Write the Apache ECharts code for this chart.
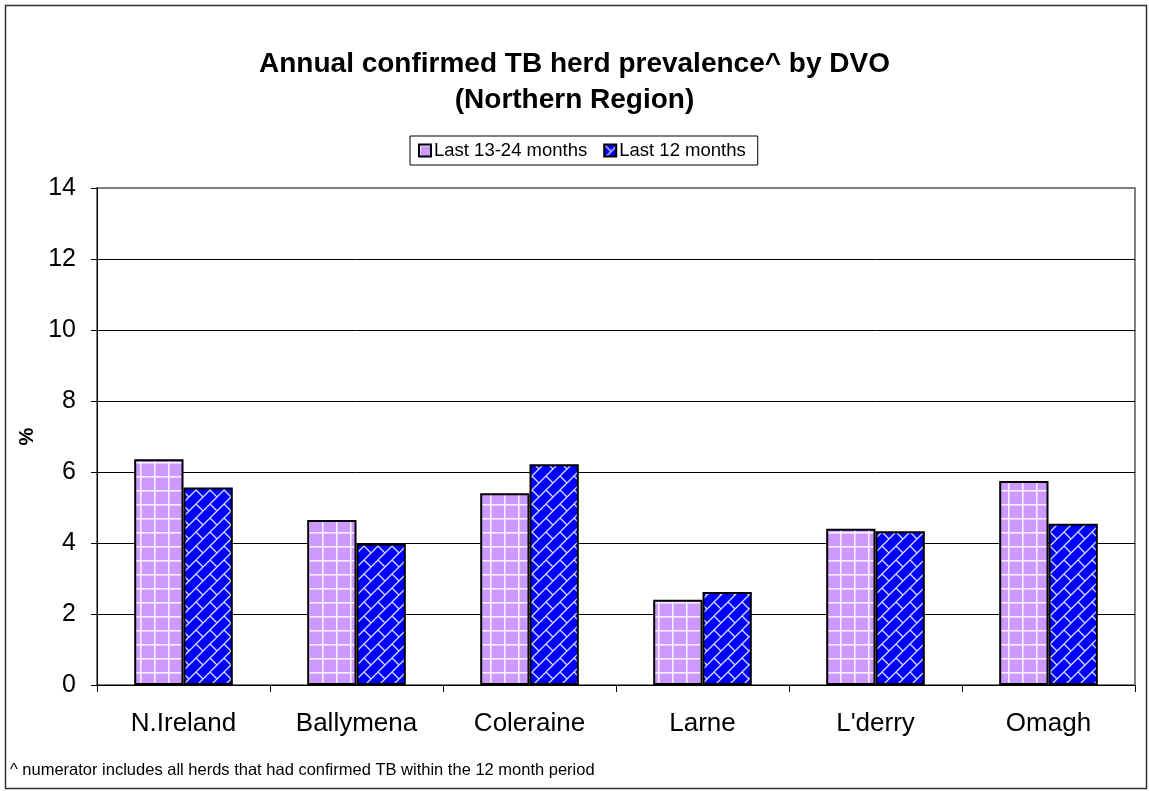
<!DOCTYPE html>
<html>
<head>
<meta charset="utf-8">
<script src="https://cdn.jsdelivr.net/npm/echarts@6/dist/echarts.min.js"></script>
<style>
html,body{margin:0;padding:0;background:#fff;}
#chart{width:1149px;height:791px;}
</style>
</head>
<body>
<div id="chart"></div>
<script>
const categories = ["N.Ireland", "Ballymena", "Coleraine", "Larne", "L'derry", "Omagh"];
const last13to24 = [6.36, 4.65, 5.4, 2.4, 4.4, 5.75];
const last12 = [5.56, 3.98, 6.22, 2.62, 4.33, 4.54];
const seriesNames = ["Last 13-24 months", "Last 12 months"];
const yTicks = [0, 2, 4, 6, 8, 10, 12, 14];

const FONT = "'Liberation Sans', Arial, sans-serif";

function gridPattern() {
  const c = document.createElement('canvas');
  c.width = 14; c.height = 14;
  const g = c.getContext('2d');
  g.fillStyle = '#CC99FF';
  g.fillRect(0, 0, 14, 14);
  g.fillStyle = '#F6F0FF';
  g.fillRect(0, 0, 14, 1.6);
  g.fillRect(0, 0, 1.6, 14);
  return c;
}
function brickPattern() {
  const c = document.createElement('canvas');
  c.width = 14; c.height = 14;
  const g = c.getContext('2d');
  g.fillStyle = '#0000FF';
  g.fillRect(0, 0, 14, 14);
  g.strokeStyle = '#DDDDFF';
  g.lineWidth = 1.3;
  g.beginPath();
  g.moveTo(-2, 16); g.lineTo(16, -2);
  g.moveTo(-2, 2); g.lineTo(2, -2);
  g.moveTo(12, 16); g.lineTo(16, 12);
  g.moveTo(0.5, 0.5); g.lineTo(6.5, 6.5);
  g.stroke();
  return c;
}

const chart = echarts.init(document.getElementById('chart'), null, {renderer: 'canvas'});
const option = {
  backgroundColor: '#fff',
  animation: false,
  title: {
    text: 'Annual confirmed TB herd prevalence^ by DVO\n(Northern Region)',
    left: 'center',
    top: 41,
    textStyle: {fontFamily: FONT, fontSize: 28, fontWeight: 'bold', color: '#000', lineHeight: 36}
  },
  legend: {
    data: seriesNames,
    left: 410,
    top: 136,
    padding: [5, 12, 5, 8],
    itemGap: 16,
    itemWidth: 12,
    itemHeight: 12,
    icon: 'rect',
    borderColor: '#000',
    borderWidth: 1,
    textStyle: {fontFamily: FONT, fontSize: 18.5, color: '#000', padding: [0, 0, 0, -2]}
  },
  grid: {left: 97, right: 14, top: 188, bottom: 106, containLabel: false,
         show: true, borderColor: '#808080', borderWidth: 2},
  xAxis: {
    type: 'category',
    data: categories,
    axisLine: {lineStyle: {color: '#000', width: 1}},
    axisTick: {show: true, length: 7, lineStyle: {color: '#000'}},
    axisLabel: {fontFamily: FONT, fontSize: 26, color: '#000', margin: 26},
    splitLine: {show: false}
  },
  yAxis: {
    type: 'value',
    min: yTicks[0],
    max: yTicks[yTicks.length - 1],
    interval: 2,
    name: '%',
    nameLocation: 'middle',
    nameRotate: 90,
    nameGap: 55,
    nameTextStyle: {fontFamily: FONT, fontSize: 20, fontWeight: 'bold', color: '#000'},
    axisLine: {show: true, lineStyle: {color: '#000', width: 1}},
    axisTick: {show: true, length: 6, lineStyle: {color: '#000'}},
    axisLabel: {fontFamily: FONT, fontSize: 25, color: '#000', margin: 21},
    splitLine: {show: true, showMaxLine: false, lineStyle: {color: '#000', width: 1}}
  },
  series: [
    {
      name: seriesNames[0],
      type: 'bar',
      data: last13to24,
      barGap: '0%',
      barCategoryGap: '43%',
      itemStyle: {color: {image: gridPattern(), repeat: 'repeat'}, borderColor: '#000', borderWidth: 2}
    },
    {
      name: seriesNames[1],
      type: 'bar',
      data: last12,
      itemStyle: {color: {image: brickPattern(), repeat: 'repeat'}, borderColor: '#000', borderWidth: 2}
    }
  ],
  graphic: [
    {type: 'rect', left: 3, top: 3, shape: {width: 1141, height: 783},
     style: {fill: 'none', stroke: '#333', lineWidth: 1.5}, silent: true},
    {type: 'text', left: 10, top: 762,
     style: {text: '^ numerator includes all herds that had confirmed TB within the 12 month period',
             font: '16.5px ' + FONT, fill: '#000'}}
  ]
};
chart.setOption(option);
</script>
</body>
</html>
